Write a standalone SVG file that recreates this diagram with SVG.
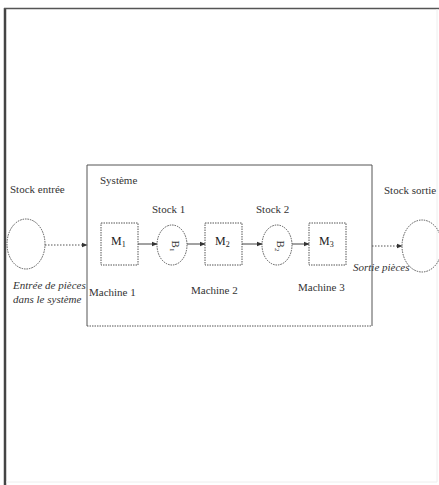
<svg xmlns="http://www.w3.org/2000/svg" width="439" height="485" viewBox="0 0 439 485">
<defs>
<marker id="ah" viewBox="0 0 10 10" refX="9" refY="5" markerWidth="6" markerHeight="6" orient="auto" markerUnits="userSpaceOnUse">
<path d="M0,1 L10,5 L0,9 z" fill="#333"/>
</marker>
<style>
text{font-family:"Liberation Serif","Times New Roman",serif;font-size:11px;fill:#333}
.it{font-style:italic}
.ml{font-size:12px;fill:#222}
.dot{fill:none;stroke:#555;stroke-width:1;stroke-dasharray:1.5 1}
.solid{fill:none;stroke:#555;stroke-width:1}
.conn{fill:none;stroke:#444;stroke-width:1}
.dconn{fill:none;stroke:#555;stroke-width:1;stroke-dasharray:1.5 1.5}
</style>
</defs>
<rect width="439" height="485" fill="#fff"/>
<g id="frame">
<line x1="5" y1="8" x2="5" y2="485" stroke="#444" stroke-width="2.5"/>
<line x1="4" y1="8.5" x2="439" y2="8.5" stroke="#555" stroke-width="1.5"/>
<line x1="437" y1="9" x2="437" y2="482" stroke="#eee" stroke-width="1"/>
<line x1="6" y1="482" x2="437" y2="482" stroke="#eee" stroke-width="1"/>
</g>
<g id="systeme">
<path class="solid" d="M372,326 L372,165 L87,165 L87,326"/>
<line class="dot" x1="87" y1="326" x2="372" y2="326"/>
<text x="100" y="184">Système</text>
</g>
<g id="stock-entree">
<ellipse class="dot" cx="26" cy="244" rx="19" ry="25"/>
<text x="10" y="193">Stock entrée</text>
<text class="it" x="13" y="289">Entrée de pièces</text>
<text class="it" x="13" y="303">dans le système</text>
</g>
<g id="m1">
<rect class="dot" x="101" y="223" width="37" height="42"/>
<text class="ml" x="111" y="245">M<tspan font-size="8" dy="2">1</tspan></text>
<text x="89" y="296">Machine 1</text>
</g>
<g id="stock1">
<ellipse class="dot" cx="172" cy="245" rx="15" ry="20"/>
<text x="172" y="246" transform="rotate(90 172 246)" text-anchor="middle" font-size="11">B<tspan font-size="7" dy="2">1</tspan></text>
<text x="152" y="213">Stock 1</text>
</g>
<g id="m2">
<rect class="dot" x="205" y="223" width="37" height="42"/>
<text class="ml" x="215" y="245">M<tspan font-size="8" dy="2">2</tspan></text>
<text x="191" y="294">Machine 2</text>
</g>
<g id="stock2">
<ellipse class="dot" cx="277" cy="245" rx="15" ry="20"/>
<text x="277" y="246" transform="rotate(90 277 246)" text-anchor="middle" font-size="11">B<tspan font-size="7" dy="2">2</tspan></text>
<text x="256" y="213">Stock 2</text>
</g>
<g id="m3">
<rect class="dot" x="309" y="223" width="37" height="42"/>
<text class="ml" x="319" y="245">M<tspan font-size="8" dy="2">3</tspan></text>
<text x="298" y="291">Machine 3</text>
</g>
<g id="stock-sortie">
<ellipse class="dot" cx="422" cy="246" rx="20" ry="26"/>
<text x="384" y="194">Stock sortie</text>
<text class="it" x="353" y="271">Sortie pièces</text>
</g>
<g id="connectors">
<line class="dconn" x1="45" y1="245" x2="87" y2="245" marker-end="url(#ah)"/>
<line class="conn" x1="138" y1="244" x2="157" y2="244" marker-end="url(#ah)"/>
<line class="conn" x1="187" y1="244" x2="205" y2="244" marker-end="url(#ah)"/>
<line class="conn" x1="242" y1="244" x2="262" y2="244" marker-end="url(#ah)"/>
<line class="conn" x1="292" y1="244" x2="309" y2="244" marker-end="url(#ah)"/>
<line class="dconn" x1="372" y1="246" x2="402" y2="246" marker-end="url(#ah)"/>
</g>
</svg>
